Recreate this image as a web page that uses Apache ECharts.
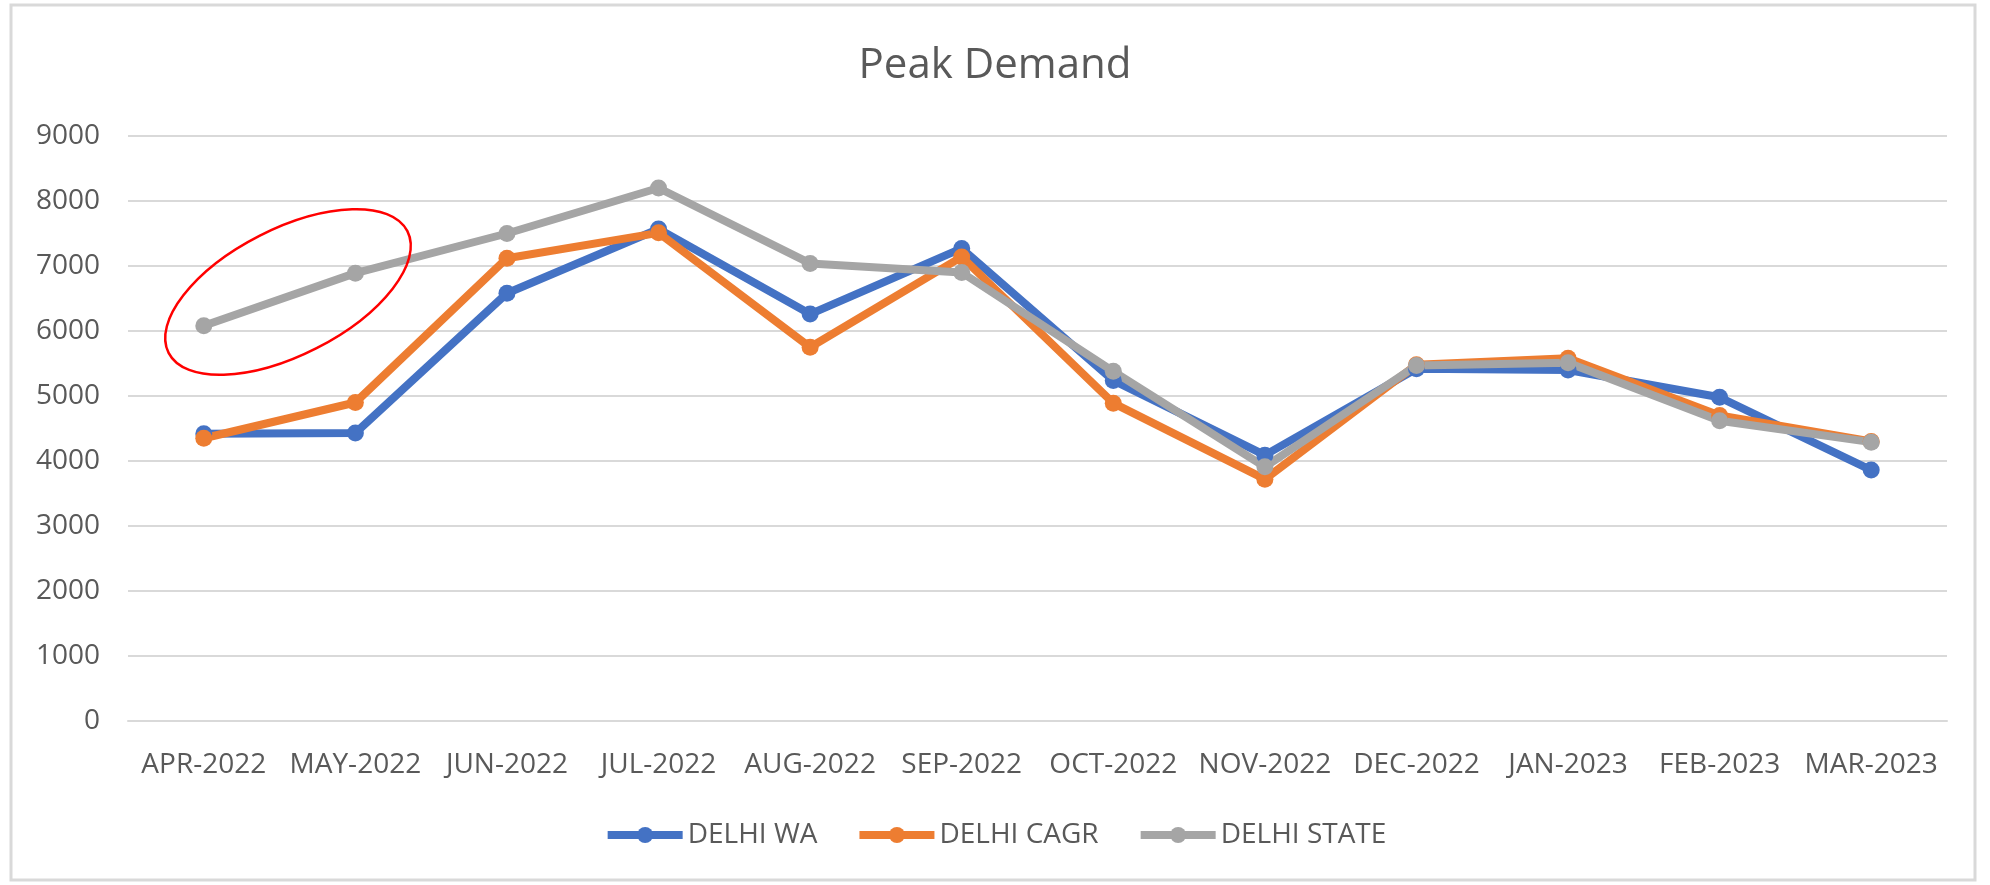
<!DOCTYPE html>
<html>
<head>
<meta charset="utf-8">
<title>Peak Demand</title>
<script src="https://cdn.jsdelivr.net/npm/echarts@6/dist/echarts.min.js"></script>
<style>
    html, body { margin: 0; padding: 0; background: #ffffff; }
    #peak-chart { width: 1990px; height: 885px; }
</style>
</head>
<body>
<div id="peak-chart"></div>
<script>
// Months on the x axis
var months = ['APR-2022', 'MAY-2022', 'JUN-2022', 'JUL-2022', 'AUG-2022', 'SEP-2022',
    'OCT-2022', 'NOV-2022', 'DEC-2022', 'JAN-2023', 'FEB-2023', 'MAR-2023'];

// Peak demand values
var delhiWa = [4420, 4430, 6580, 7570, 6260, 7270, 5240, 4090, 5420, 5400, 4980, 3860];
var delhiCagr = [4350, 4900, 7120, 7510, 5750, 7140, 4890, 3720, 5480, 5580, 4700, 4300];
var delhiState = [6080, 6890, 7500, 8200, 7040, 6900, 5380, 3910, 5470, 5510, 4620, 4290];

// Y axis ticks
var yTicks = [0, 1000, 2000, 3000, 4000, 5000, 6000, 7000, 8000, 9000];

var textColor = '#595959';
var gridColor = '#d9d9d9';
var fontFamily = '"Open Sans", sans-serif';

var chart = echarts.init(document.getElementById('peak-chart'));

function lineSeries(name, values, color) {
    return {
        name: name,
        type: 'line',
        data: values,
        symbol: 'circle',
        symbolSize: 17,
        lineStyle: { width: 8, color: color },
        itemStyle: { color: color },
        emphasis: { disabled: true },
        animation: false
    };
}

var option = {
    backgroundColor: '#ffffff',
    textStyle: { fontFamily: fontFamily },
    title: {
        text: 'Peak Demand',
        left: 'center',
        top: 45,
        padding: 0,
        textStyle: {
            fontFamily: fontFamily,
            fontSize: 42,
            fontWeight: 'normal',
            color: textColor
        }
    },
    legend: {
        top: 821,
        left: 'center',
        padding: 0,
        itemWidth: 75,
        itemHeight: 20,
        itemGap: 38,
        lineStyle: { width: 8 },
        textStyle: { fontSize: 28, color: textColor, fontFamily: fontFamily }
    },
    grid: {
        left: 128,
        right: 43,
        top: 136,
        bottom: 164,
        containLabel: false
    },
    xAxis: {
        type: 'category',
        data: months,
        boundaryGap: true,
        axisLine: { show: true, lineStyle: { color: gridColor, width: 2 } },
        axisTick: { show: false },
        axisLabel: { fontSize: 28, color: textColor, margin: 30, interval: 0 }
    },
    yAxis: {
        type: 'value',
        min: yTicks[0],
        max: yTicks[yTicks.length - 1],
        interval: yTicks[1] - yTicks[0],
        axisLine: { show: false },
        axisTick: { show: false },
        axisLabel: {
            fontSize: 28,
            color: textColor,
            margin: 28,
            formatter: function (value) {
                return String(value);
            }
        },
        splitLine: { show: true, lineStyle: { color: gridColor, width: 2 } }
    },
    graphic: [
        {
            // outer chart border
            type: 'rect',
            shape: { x: 11, y: 5, width: 1964, height: 875 },
            style: { fill: 'none', stroke: gridColor, lineWidth: 3 },
            silent: true
        },
        {
            // red hand-drawn highlight round the first two state points
            type: 'ellipse',
            x: 288,
            y: 292,
            rotation: 27 * Math.PI / 180,
            shape: { cx: 0, cy: 0, rx: 134, ry: 63 },
            style: { fill: 'none', stroke: '#ff0000', lineWidth: 2.5 },
            z: 100,
            silent: true
        }
    ],
    series: [
        lineSeries('DELHI WA', delhiWa, '#4472C4'),
        lineSeries('DELHI CAGR', delhiCagr, '#ED7D31'),
        lineSeries('DELHI STATE', delhiState, '#A5A5A5')
    ]
};

chart.setOption(option);

window.addEventListener('resize', function () {
    chart.resize();
});
</script>
</body>
</html>
